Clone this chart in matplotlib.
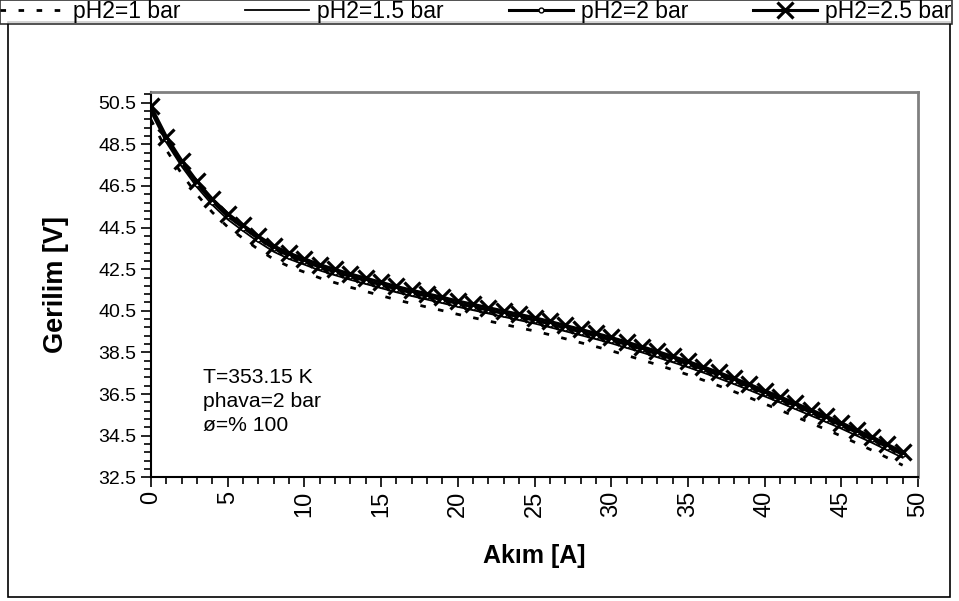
import numpy as np
import matplotlib.pyplot as plt
from matplotlib.ticker import MultipleLocator, FixedLocator

plt.rcParams['font.family'] = ['Liberation Sans', 'DejaVu Sans']

akim = list(range(0, 50))

# pH2 = 2 bar curve (V)
v_2bar = [50.20, 48.75, 47.60, 46.60, 45.75, 45.05, 44.50, 43.97, 43.50, 43.15,
          42.88, 42.60, 42.37, 42.15, 41.95, 41.75, 41.55, 41.37, 41.20, 41.03,
          40.85, 40.69, 40.53, 40.37, 40.21, 40.05, 39.87, 39.68, 39.49, 39.30,
          39.10, 38.88, 38.66, 38.43, 38.19, 37.95, 37.69, 37.42, 37.14, 36.85,
          36.55, 36.25, 35.94, 35.63, 35.32, 35.00, 34.66, 34.32, 33.96, 33.60]
# the other pressures sit a near-constant distance from the 2 bar curve
v_1bar = [v - 0.52 for v in v_2bar]
v_15bar = [v - 0.16 for v in v_2bar]
v_25bar = [v + 0.12 for v in v_2bar]

labels = ['pH2=1 bar', 'pH2=1.5 bar', 'pH2=2 bar', 'pH2=2.5 bar']
yticks = [32.5, 34.5, 36.5, 38.5, 40.5, 42.5, 44.5, 46.5, 48.5, 50.5]
xticks = [0, 5, 10, 15, 20, 25, 30, 35, 40, 45, 50]
info = 'T=353.15 K\nphava=2 bar\nø=% 100'

fig = plt.figure(figsize=(9.59, 6.01), dpi=100)

# outer chart frame
fig.patches.append(plt.Rectangle((8 / 959, 4 / 601), 942 / 959, 575 / 601,
                                 transform=fig.transFigure, fill=False,
                                 edgecolor='black', linewidth=1.2))

ax = fig.add_axes([151 / 959, 1 - 477.3 / 601, 767 / 959, 385 / 601])

l1, = ax.plot(akim, v_1bar, color='black', lw=2.0, linestyle=(0, (2.0, 4.5)))
l2, = ax.plot(akim, v_15bar, color='black', lw=1.3)
l3, = ax.plot(akim, v_2bar, color='black', lw=2.2, marker='o', markersize=3.5,
              markerfacecolor='white', markeredgecolor='black', markeredgewidth=1)
l4, = ax.plot(akim, v_25bar, color='black', lw=2.2, marker='x', markersize=12,
              markeredgewidth=2.3)

ax.set_xlim(0, 50)
ax.set_ylim(32.5, 51)
ax.set_xticks(xticks)
ax.set_yticks(yticks)
ax.set_yticklabels([f'{t:.1f}' for t in yticks])
ax.xaxis.set_minor_locator(MultipleLocator(1))
ax.yaxis.set_minor_locator(FixedLocator(np.arange(32.5, 51, 0.4)))
ax.tick_params(axis='both', which='major', direction='out', length=7, width=1.2,
               color='black')
ax.tick_params(axis='y', which='major', labelsize=14)
ax.tick_params(axis='x', which='major', labelsize=17, labelrotation=90, pad=3)
ax.tick_params(axis='both', which='minor', direction='out', length=5, width=1.2)
for lab in ax.get_xticklabels():
    lab.set_va('top')

for s in ['left', 'bottom']:
    ax.spines[s].set_color('black')
    ax.spines[s].set_linewidth(1.5)
for s in ['top', 'right']:
    ax.spines[s].set_color('#808080')
    ax.spines[s].set_linewidth(2)

ax.set_xlabel('Akım [A]', fontsize=18, fontweight='bold')
ax.set_ylabel('Gerilim [V]', fontsize=19.5, fontweight='bold')
ax.xaxis.label.set_va('center')
ax.yaxis.label.set_va('center')
ax.xaxis.set_label_coords(0.5, -0.205)
ax.yaxis.set_label_coords(-0.124, 0.502)

ax.text(0.068, 0.283, info, transform=ax.transAxes, fontsize=15.2,
        va='top', ha='left', linespacing=1.32)

leg = fig.legend([l1, l2, l3, l4], labels, loc='upper left', ncol=4,
                 bbox_to_anchor=(0, 0, 952 / 959, 1), mode='expand',
                 frameon=True, fancybox=False, edgecolor='black', fontsize=16.5,
                 handlelength=2.8, handletextpad=0.35, columnspacing=0.6,
                 borderpad=0.02, borderaxespad=0)
leg.get_frame().set_linewidth(1.2)

fig.savefig('out.png', dpi=100)
